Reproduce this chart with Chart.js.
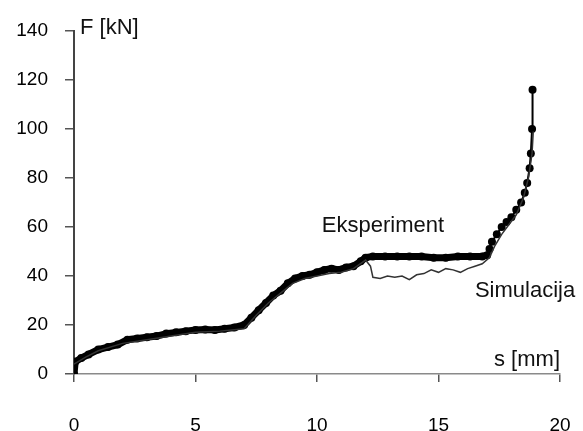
<!DOCTYPE html>
<html>
<head>
<meta charset="utf-8">
<script src="https://cdn.jsdelivr.net/npm/chart.js@4/dist/chart.umd.min.js"></script>
<style>
  html,body{margin:0;padding:0;background:#fff;}
  #wrap{width:583px;height:431px;}
</style>
</head>
<body>
<div id="wrap"><canvas id="c"></canvas></div>
<script>
// s [mm] / F [kN]
const expS = [0, 0.05, 0.3, 0.6, 1.0, 1.4, 1.8, 2.2, 2.6, 3.0, 3.4, 3.8, 4.2, 4.6, 5.0, 5.4, 5.8, 6.2, 6.6, 7.0,
  7.3, 7.6, 7.9, 8.2, 8.5, 8.8, 9.1, 9.4, 9.7, 10.0, 10.3, 10.6, 10.9, 11.2, 11.5, 11.8, 12.0, 12.3,
  12.8, 13.3, 13.8, 14.3, 14.8, 15.3, 15.8, 16.3, 16.8, 17.0, 17.1, 17.2, 17.4, 17.6, 17.8, 18.0,
  18.2, 18.4, 18.55, 18.65, 18.75, 18.8, 18.85, 18.87];
const expF = [0, 5, 6.5, 8, 10, 11, 12, 14, 14.5, 15, 15.5, 16.5, 17, 17.5, 18, 18.2, 18, 18.5, 19, 20,
  23, 26, 29, 32, 34, 37, 39, 40, 40.5, 41.5, 42.5, 43, 42.5, 43.5, 44, 46, 47.5, 48,
  48, 48, 48, 48, 47.5, 47.5, 48, 48, 48, 48.5, 51, 54, 57, 60, 62, 64,
  67, 70, 74, 78, 84, 90, 100, 116];

const simS = [0, 0.5, 1, 2, 3, 4, 5, 6, 7, 7.5, 8, 8.5, 9, 9.5, 10, 10.5, 11, 11.5, 12, 12.2, 12.3,
  12.6, 12.9, 13.2, 13.5, 13.8, 14.1, 14.4, 14.7, 15.0, 15.3, 15.6, 15.9, 16.2, 16.5, 16.8, 17.1,
  17.3, 17.6, 17.9, 18.2, 18.5, 18.7, 18.85, 18.9];
const simF = [4, 7, 9.5, 12.5, 14, 15.5, 17, 17.5, 18.5, 24, 29, 33, 37, 39, 40, 41, 41.5, 43, 46.5, 44, 39.5,
  39, 40, 39.5, 40, 38.5, 40.5, 41, 42.5, 41.5, 43, 42.5, 41.5, 43, 44, 45, 47.5,
  52, 57, 61, 65, 72, 80, 90, 99];

const xTicks = [0, 5, 10, 15, 20];
const yTicks = [0, 20, 40, 60, 80, 100, 120, 140];

const toPts = (xs, ys) => xs.map((x, i) => ({x, y: ys[i]}));

const textPlugin = {
  id: 'labels',
  afterDraw(chart){
    const {ctx, chartArea, scales} = chart;
    ctx.save();
    ctx.fillStyle = '#111';
    ctx.font = '22px "Liberation Sans", Arial, sans-serif';
    ctx.textBaseline = 'alphabetic';
    ctx.textAlign = 'left';
    ctx.fillText('F [kN]', chartArea.left + 6, 34);
    ctx.fillText('Eksperiment', scales.x.getPixelForValue(10.2), scales.y.getPixelForValue(58));
    ctx.fillText('Simulacija', scales.x.getPixelForValue(16.5), scales.y.getPixelForValue(31.5));
    ctx.textAlign = 'right';
    ctx.fillText('s [mm]', chartArea.right, chartArea.bottom - 8);
    ctx.restore();
  }
};

new Chart(document.getElementById('c'), {
  type: 'line',
  data: {
    datasets: [
      {
        label: 'Eksperiment',
        data: toPts(expS, expF),
        borderColor: '#000',
        backgroundColor: '#000',
        borderWidth: 3,
        pointRadius: 4,
        pointBorderWidth: 0,
        pointBackgroundColor: '#000',
        segment: { borderWidth: c => c.p0.parsed.x < 17 ? 7 : 2 },
        tension: 0,
        order: 1
      },
      {
        label: 'Simulacija',
        data: toPts(simS, simF),
        borderColor: '#333',
        borderWidth: 1.5,
        pointRadius: 0,
        tension: 0,
        order: 0
      }
    ]
  },
  options: {
    responsive: true,
    maintainAspectRatio: false,
    animation: false,
    events: [],
    layout: { padding: { top: 31, right: 23, left: 0, bottom: 0 } },
    plugins: { legend: { display: false }, tooltip: { enabled: false } },
    scales: {
      x: {
        type: 'linear', min: 0, max: 20,
        afterBuildTicks: s => { s.ticks = xTicks.map(v => ({value: v})); },
        afterFit: s => { s.height = 57; s.paddingLeft = 0; s.paddingRight = 0; },
        border: { display: true, color: '#8a8a8a', width: 1.5 },
        grid: { drawOnChartArea: false, drawTicks: true, tickLength: 8, color: '#555', lineWidth: 1.5 },
        ticks: { padding: 32, color: '#000', maxRotation: 0,
          font: { family: '"Liberation Sans", Arial, sans-serif', size: 19 } }
      },
      y: {
        type: 'linear', min: 0, max: 140,
        afterBuildTicks: s => { s.ticks = yTicks.map(v => ({value: v})); },
        afterFit: s => { s.width = 74; },
        border: { display: true, color: '#444', width: 2 },
        grid: { drawOnChartArea: false, drawTicks: true, tickLength: 9, color: '#555', lineWidth: 1.5 },
        ticks: { padding: 17, color: '#000',
          font: { family: '"Liberation Sans", Arial, sans-serif', size: 19 } }
      }
    }
  },
  plugins: [textPlugin]
});
</script>
</body>
</html>
